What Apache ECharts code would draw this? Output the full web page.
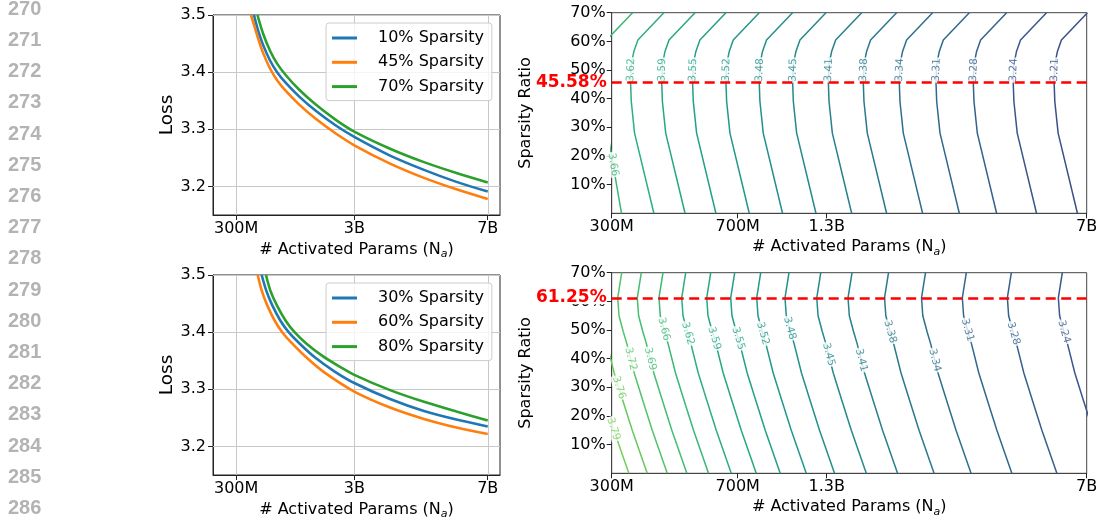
<!DOCTYPE html>
<html><head><meta charset="utf-8">
<script src="https://cdn.jsdelivr.net/npm/echarts/dist/echarts.min.js"></script>
<style>html,body{margin:0;padding:0;background:#fff}#chart{width:1099px;height:523px}</style>
</head><body><div id="chart"></div>
<script>
// ---------------- data ----------------
const lineNumbers = [270,271,272,273,274,275,276,277,278,279,280,281,282,283,284,285,286];

// left panels: x = activated params (billions), y = loss
const PARAM_POWER = 0.785;           // x scale of the left panels (power scale)
const leftParamMax = 7.4;
const leftParamTicks = [0.3, 3, 7];
const leftParamTickLabels = ['300M', '3B', '7B'];
const lossTicks = [3.2, 3.3, 3.4, 3.5];
const lossMin = 3.15, lossMax = 3.5;

const topLeftNames = ['10% Sparsity', '45% Sparsity', '70% Sparsity'];
const topLeft10 = [[0.62,3.5],[0.7,3.4732],[0.8,3.4477],[0.95,3.4195],[1.1,3.3995],[1.3,3.3802],[1.6,3.3572],[2,3.3323],[2.5,3.307],[3,3.2867],[4,3.254],[5,3.229],[6,3.208],[7,3.191]];
const topLeft45 = [[0.563,3.5],[0.62,3.483],[0.7,3.4592],[0.8,3.4337],[0.95,3.4055],[1.1,3.3855],[1.3,3.3662],[1.6,3.3432],[2,3.3183],[2.5,3.293],[3,3.272],[4,3.24],[5,3.215],[6,3.195],[7,3.178]];
const topLeft70 = [[0.688,3.5],[0.8,3.4677],[0.95,3.4365],[1.1,3.4145],[1.3,3.3937],[1.6,3.3692],[2,3.3433],[2.5,3.317],[3,3.296],[4,3.266],[5,3.2425],[6,3.2235],[7,3.207]];

const bottomLeftNames = ['30% Sparsity', '60% Sparsity', '80% Sparsity'];
const bottomLeft30 = [[0.772,3.5],[0.864,3.4732],[0.988,3.4477],[1.173,3.4195],[1.359,3.3995],[1.606,3.3802],[1.976,3.356],[2.47,3.3315],[3,3.311],[4,3.283],[5,3.262],[6,3.247],[7,3.235]];
const bottomLeft60 = [[0.692,3.5],[0.772,3.4732],[0.882,3.4477],[1.048,3.4195],[1.214,3.3995],[1.434,3.3802],[1.765,3.356],[2.206,3.33],[3,3.296],[4,3.268],[5,3.248],[6,3.233],[7,3.2216]];
const bottomLeft80 = [[0.86,3.5],[0.95,3.4732],[1.087,3.4477],[1.29,3.4195],[1.495,3.3995],[1.767,3.3802],[2.174,3.358],[2.6,3.34],[3,3.3253],[4,3.2985],[5,3.278],[6,3.261],[7,3.2455]];

// right panels: contour lines, x = activated params (billions, log), y = sparsity (%)
const contourParamMin = 0.3, contourParamMax = 7;
const contourParamTicks = [0.3, 0.692, 1.248, 7];
const contourParamTickLabels = ['300M', '700M', '1.3B', '7B'];
const sparsityTicks = [10, 20, 30, 40, 50, 60, 70];

const topContourRows = [0, 28, 39, 45.6, 52, 56.5, 60.5, 70];
const topContourLevels = [3.66, 3.62, 3.59, 3.55, 3.52, 3.48, 3.45, 3.41, 3.38, 3.34, 3.31, 3.28, 3.24, 3.21];
const topContourParams = [
  [0.3202, 0.292, 0.2776, 0.2763, 0.2776, 0.2824, 0.2900, 0.3446],
  [0.3968, 0.3491, 0.3416, 0.340, 0.3416, 0.3475, 0.3569, 0.4240],
  [0.4879, 0.4292, 0.4199, 0.418, 0.4199, 0.4272, 0.4387, 0.5213],
  [0.5987, 0.5268, 0.5154, 0.513, 0.5154, 0.5243, 0.5384, 0.6398],
  [0.7469, 0.6572, 0.6429, 0.640, 0.6429, 0.6541, 0.6717, 0.7982],
  [0.9313, 0.8195, 0.8017, 0.798, 0.8017, 0.8156, 0.8376, 0.9953],
  [1.1624, 1.0228, 1.0006, 0.996, 1.0006, 1.0180, 1.0454, 1.2422],
  [1.4729, 1.2959, 1.2678, 1.262, 1.2678, 1.2899, 1.3246, 1.5740],
  [1.8569, 1.6338, 1.5983, 1.591, 1.5983, 1.6262, 1.6699, 1.9843],
  [2.3575, 2.0743, 2.0293, 2.020, 2.0293, 2.0646, 2.1202, 2.5193],
  [3.0076, 2.6463, 2.5889, 2.577, 2.5889, 2.6339, 2.7048, 3.2140],
  [3.8514, 3.3888, 3.3152, 3.300, 3.3152, 3.3729, 3.4637, 4.1158],
  [5.0185, 4.4157, 4.3198, 4.30, 4.3198, 4.3950, 4.5133, 5.3630],
  [6.5824, 5.7917, 5.6659, 5.64, 5.6659, 5.7646, 5.9197, 7.0342]
];
const topContourLabelAt = [17, 50, 50, 50, 50, 50, 50, 50, 50, 50, 50, 50, 50, 50];
const topOptimalSparsity = 45.58;

const bottomContourRows = [70, 61.25, 55, 49.5, 45, 35, 25, 15, 0];
const bottomContourLevels = [3.79, 3.76, 3.72, 3.69, 3.66, 3.62, 3.59, 3.55, 3.52, 3.48, 3.45, 3.41, 3.38, 3.34, 3.31, 3.28, 3.24];
const bottomContourParams = [
  [0.2485, 0.2420, 0.2441, 0.2510, 0.2574, 0.2700, 0.2866, 0.3043, 0.3361],
  [0.2808, 0.2734, 0.2758, 0.2836, 0.2908, 0.3050, 0.3238, 0.3438, 0.3797],
  [0.3206, 0.3122, 0.3149, 0.3238, 0.3321, 0.3483, 0.3697, 0.3925, 0.4336],
  [0.3651, 0.3555, 0.3586, 0.3687, 0.3781, 0.3966, 0.4210, 0.4470, 0.4937],
  [0.4215, 0.4105, 0.4140, 0.4258, 0.4366, 0.4580, 0.4861, 0.5161, 0.5701],
  [0.4901, 0.4773, 0.4814, 0.4951, 0.5077, 0.5325, 0.5653, 0.6001, 0.6628],
  [0.5785, 0.5633, 0.5681, 0.5843, 0.5991, 0.6284, 0.6671, 0.7082, 0.7823],
  [0.6782, 0.6604, 0.6661, 0.6850, 0.7024, 0.7367, 0.7821, 0.8303, 0.9171],
  [0.8059, 0.7848, 0.7915, 0.8140, 0.8347, 0.8755, 0.9294, 0.9867, 1.0899],
  [0.9722, 0.9467, 0.9548, 0.9819, 1.0069, 1.0561, 1.1212, 1.1903, 1.3147],
  [1.2001, 1.1687, 1.1788, 1.2122, 1.2430, 1.3038, 1.3841, 1.4694, 1.6230],
  [1.4766, 1.4379, 1.4503, 1.4914, 1.5293, 1.6041, 1.7029, 1.8079, 1.9968],
  [1.8810, 1.8317, 1.8475, 1.8998, 1.9482, 2.0434, 2.1693, 2.3030, 2.5437],
  [2.4039, 2.3409, 2.3610, 2.4280, 2.4898, 2.6115, 2.7723, 2.9432, 3.2508],
  [3.1509, 3.0684, 3.0948, 3.1825, 3.2636, 3.4231, 3.6339, 3.8579, 4.2611],
  [4.2474, 4.1361, 4.1717, 4.2900, 4.3992, 4.6142, 4.8984, 5.2003, 5.7438],
  [5.9559, 5.7999, 5.8498, 6.0156, 6.1688, 6.4704, 6.8688, 7.2922, 8.0543]
];
const bottomContourLabelAt = [15.5, 29.9, 39.9, 39.9, 50.3, 48.8, 47.1, 47.1, 48.8, 50.6, 41.5, 39.5, 49.4, 39.5, 50.0, 48.8, 49.4];
const bottomOptimalSparsity = 61.25;

// ---------------- styling helpers ----------------
const FONT = '"DejaVu Sans", sans-serif';
const CURVE_COLORS = ['#1f77b4', '#ff7f0e', '#2ca02c'];
const VIRIDIS = [[68,1,84],[72,36,117],[65,68,135],[53,95,141],[42,120,142],[33,145,140],[34,168,132],[68,191,112],[122,209,81],[189,223,38],[253,231,37]];
function viridis(t) {
  t = Math.max(0, Math.min(1, t));
  const f = t * 10, i = Math.min(9, Math.floor(f)), r = f - i;
  const a = VIRIDIS[i], b = VIRIDIS[i + 1];
  return 'rgb(' + [0,1,2].map(k => Math.round(a[k] + (b[k] - a[k]) * r)).join(',') + ')';
}
function levelColor(level) { return viridis(0.25 + (level - 3.22) * 0.95); }
const pw = n => Math.pow(n, PARAM_POWER);
const leftTickU = leftParamTicks.map(pw);
function leftFmt(v) {
  let best = 0;
  leftTickU.forEach((u, i) => { if (Math.abs(u - v) < Math.abs(leftTickU[best] - v)) best = i; });
  return leftParamTickLabels[best];
}
function contourFmt(v) {
  let best = 0;
  contourParamTicks.forEach((u, i) => { if (Math.abs(Math.log(u / v)) < Math.abs(Math.log(contourParamTicks[best] / v))) best = i; });
  return contourParamTickLabels[best];
}
function interpAt(rows, params, s) {
  for (let i = 0; i < rows.length - 1; i++) {
    const a = rows[i], b = rows[i + 1];
    if ((s - a) * (s - b) <= 0 && a !== b) {
      const t = (s - a) / (b - a);
      const la = Math.log10(params[i]), lb = Math.log10(params[i + 1]);
      return Math.pow(10, la + t * (lb - la));
    }
  }
  return params[0];
}

const xNameRich = {
  sub: { fontSize: 11, fontStyle: 'italic', fontFamily: FONT, color: '#000', lineHeight: 12, verticalAlign: 'bottom' }
};
const xName = '# Activated Params (N{sub|a})';

function leftXAxis(gi) {
  return {
    type: 'value', gridIndex: gi, min: 0, max: pw(leftParamMax),
    axisLine: { show: true, onZero: false, lineStyle: { color: '#222', width: 1 } },
    axisTick: { show: true, customValues: leftTickU, length: 5, lineStyle: { color: '#222' } },
    axisLabel: { show: true, customValues: leftTickU, formatter: leftFmt, color: '#000', fontSize: 16, fontFamily: FONT, margin: 6 },
    splitLine: { show: false },
    name: xName, nameLocation: 'middle', nameGap: 25,
    nameTextStyle: { fontSize: 16, fontFamily: FONT, color: '#000', lineHeight: 20, rich: xNameRich }
  };
}
function leftYAxis(gi) {
  return {
    type: 'value', gridIndex: gi, min: lossMin, max: lossMax,
    axisLine: { show: true, onZero: false, lineStyle: { color: '#222', width: 1 } },
    axisTick: { show: true, customValues: lossTicks, length: 5, lineStyle: { color: '#222' } },
    axisLabel: { show: true, customValues: lossTicks, formatter: v => v.toFixed(1), color: '#000', fontSize: 16, fontFamily: FONT, margin: 7 },
    splitLine: { show: false },
    name: 'Loss', nameLocation: 'middle', nameGap: 28,
    nameTextStyle: { fontSize: 18.5, fontFamily: FONT, color: '#000' }
  };
}
function contourXAxis(gi) {
  return {
    type: 'log', logBase: 10, gridIndex: gi, min: contourParamMin, max: contourParamMax,
    axisLine: { show: true, onZero: false, lineStyle: { color: '#444', width: 1 } },
    axisTick: { show: true, customValues: contourParamTicks, length: 5, lineStyle: { color: '#222' } },
    axisLabel: { show: true, customValues: contourParamTicks, formatter: contourFmt, color: '#000', fontSize: 16, fontFamily: FONT, margin: 6 },
    splitLine: { show: false }, minorTick: { show: false },
    name: xName, nameLocation: 'middle', nameGap: 24,
    nameTextStyle: { fontSize: 16, fontFamily: FONT, color: '#000', lineHeight: 20, rich: xNameRich }
  };
}
function contourYAxis(gi) {
  return {
    type: 'value', gridIndex: gi, min: 0, max: 70,
    axisLine: { show: true, onZero: false, lineStyle: { color: '#444', width: 1 } },
    axisTick: { show: true, customValues: sparsityTicks, length: 5, lineStyle: { color: '#222' } },
    axisLabel: { show: true, customValues: sparsityTicks, formatter: v => v + '%', color: '#000', fontSize: 16, fontFamily: FONT, margin: 6 },
    splitLine: { show: false },
    name: 'Sparsity Ratio', nameLocation: 'middle', nameGap: 78,
    nameTextStyle: { fontSize: 16, fontFamily: FONT, color: '#000' }
  };
}

function curveSeries(names, datasets, gi) {
  return datasets.map((d, i) => {
    const s = {
      type: 'line', name: names[i], xAxisIndex: gi, yAxisIndex: gi,
      data: d.map(([n, l]) => [pw(n), l]),
      showSymbol: false, symbol: 'none', smooth: 0.3, clip: true,
      lineStyle: { width: 2.6, color: CURVE_COLORS[i] }, itemStyle: { color: CURVE_COLORS[i] },
      z: 3 + i, silent: true, emphasis: { disabled: true }
    };
    if (i === 0) {
      s.markLine = {
        silent: true, symbol: ['none', 'none'], z: 1, animation: false,
        label: { show: false }, emphasis: { disabled: true },
        lineStyle: { color: '#c8c8c8', width: 1, type: 'solid' },
        data: lossTicks.map(v => ({ yAxis: v })).concat(leftTickU.map(v => ({ xAxis: v })))
      };
    }
    return s;
  });
}
function contourSeries(levels, rows, params, gi, optimal) {
  return levels.map((lv, i) => {
    const s = {
      type: 'line', name: 'c' + gi + '_' + lv, xAxisIndex: gi, yAxisIndex: gi,
      data: rows.map((sp, k) => [params[i][k], sp]),
      showSymbol: false, symbol: 'none', smooth: false, clip: true,
      lineStyle: { width: 1.5, color: levelColor(lv) }, itemStyle: { color: levelColor(lv) },
      z: 2, silent: true, emphasis: { disabled: true }
    };
    if (i === levels.length - 1) {
      s.markLine = {
        silent: true, symbol: ['none', 'none'], z: 8, animation: false, emphasis: { disabled: true },
        lineStyle: { color: '#ff0000', width: 2.5, type: [10, 5.5] },
        label: { show: true, position: 'start', distance: 5, formatter: optimal.toFixed(2) + '%', color: '#ff0000', fontWeight: 'bold', fontSize: 17, fontFamily: FONT, backgroundColor: '#ffffff', lineHeight: 13, padding: [0, 0, 0, 0] },
        data: [{ yAxis: optimal }]
      };
    }
    return s;
  });
}

const legendBase = {
  orient: 'vertical', left: 326, icon: 'rect', itemWidth: 25, itemHeight: 3, itemGap: 8.3,
  backgroundColor: 'rgba(255,255,255,0.8)', borderColor: '#cccccc', borderWidth: 1, borderRadius: 3,
  padding: [7, 8, 6, 6], selectedMode: false,
  textStyle: { fontSize: 16, fontFamily: FONT, color: '#000', lineHeight: 16, padding: [0, 0, 0, 16] }
};

const graphic = lineNumbers.map((n, i) => ({
  type: 'text', x: 8, y: 9.3 + i * 31.2, silent: true,
  style: { text: String(n), fill: '#b3b3b3', font: 'bold 20px "Liberation Sans", Arial, sans-serif', verticalAlign: 'middle', align: 'left' }
}));

const baseSeries = [].concat(
  curveSeries(topLeftNames, [topLeft10, topLeft45, topLeft70], 0),
  curveSeries(bottomLeftNames, [bottomLeft30, bottomLeft60, bottomLeft80], 1),
  contourSeries(topContourLevels, topContourRows, topContourParams, 2, topOptimalSparsity),
  contourSeries(bottomContourLevels, bottomContourRows, bottomContourParams, 3, bottomOptimalSparsity)
);

const option = {
  animation: false,
  backgroundColor: '#ffffff',
  textStyle: { fontFamily: FONT },
  graphic: graphic,
  grid: [
    { left: 213, top: 15, width: 287, height: 200, show: true, borderColor: '#222', borderWidth: 1, containLabel: false, outerBoundsMode: 'none' },
    { left: 213, top: 275, width: 287, height: 200, show: true, borderColor: '#222', borderWidth: 1, containLabel: false, outerBoundsMode: 'none' },
    { left: 611.7, top: 12.7, width: 475, height: 200.6, show: true, borderColor: '#444', borderWidth: 1, containLabel: false, outerBoundsMode: 'none' },
    { left: 611.7, top: 272.7, width: 475, height: 200.6, show: true, borderColor: '#444', borderWidth: 1, containLabel: false, outerBoundsMode: 'none' }
  ],
  xAxis: [leftXAxis(0), leftXAxis(1), contourXAxis(2), contourXAxis(3)],
  yAxis: [leftYAxis(0), leftYAxis(1), contourYAxis(2), contourYAxis(3)],
  legend: [
    Object.assign({}, legendBase, { top: 23, data: topLeftNames }),
    Object.assign({}, legendBase, { top: 283, data: bottomLeftNames })
  ],
  tooltip: { show: false },
  series: baseSeries
};

const chart = echarts.init(document.getElementById('chart'), null, { renderer: 'canvas' });
chart.setOption(option);

function labelSeries(levels, rows, params, labelAt, gi) {
  const data = levels.map((lv, i) => {
    const s = labelAt[i];
    const n = interpAt(rows, params[i], s);
    const p1 = chart.convertToPixel({ gridIndex: gi }, [interpAt(rows, params[i], s - 2), s - 2]);
    const p2 = chart.convertToPixel({ gridIndex: gi }, [interpAt(rows, params[i], s + 2), s + 2]);
    let ang = Math.atan2(-(p2[1] - p1[1]), p2[0] - p1[0]) * 180 / Math.PI;
    if (ang > 90) ang -= 180;
    if (ang < -90) ang += 180;
    return {
      value: [n, s],
      label: { rotate: ang, color: levelColor(lv), formatter: lv.toFixed(2) }
    };
  });
  return {
    type: 'scatter', xAxisIndex: gi, yAxisIndex: gi, symbolSize: 0, clip: false, silent: true, z: 4,
    itemStyle: { color: 'rgba(0,0,0,0)' }, emphasis: { disabled: true },
    label: { show: true, position: 'inside', fontSize: 10.5, fontFamily: FONT, backgroundColor: '#ffffff', padding: [0, 1], lineHeight: 11 },
    data: data
  };
}

chart.setOption({
  series: baseSeries.concat([
    labelSeries(topContourLevels, topContourRows, topContourParams, topContourLabelAt, 2),
    labelSeries(bottomContourLevels, bottomContourRows, bottomContourParams, bottomContourLabelAt, 3)
  ])
});
</script></body></html>
